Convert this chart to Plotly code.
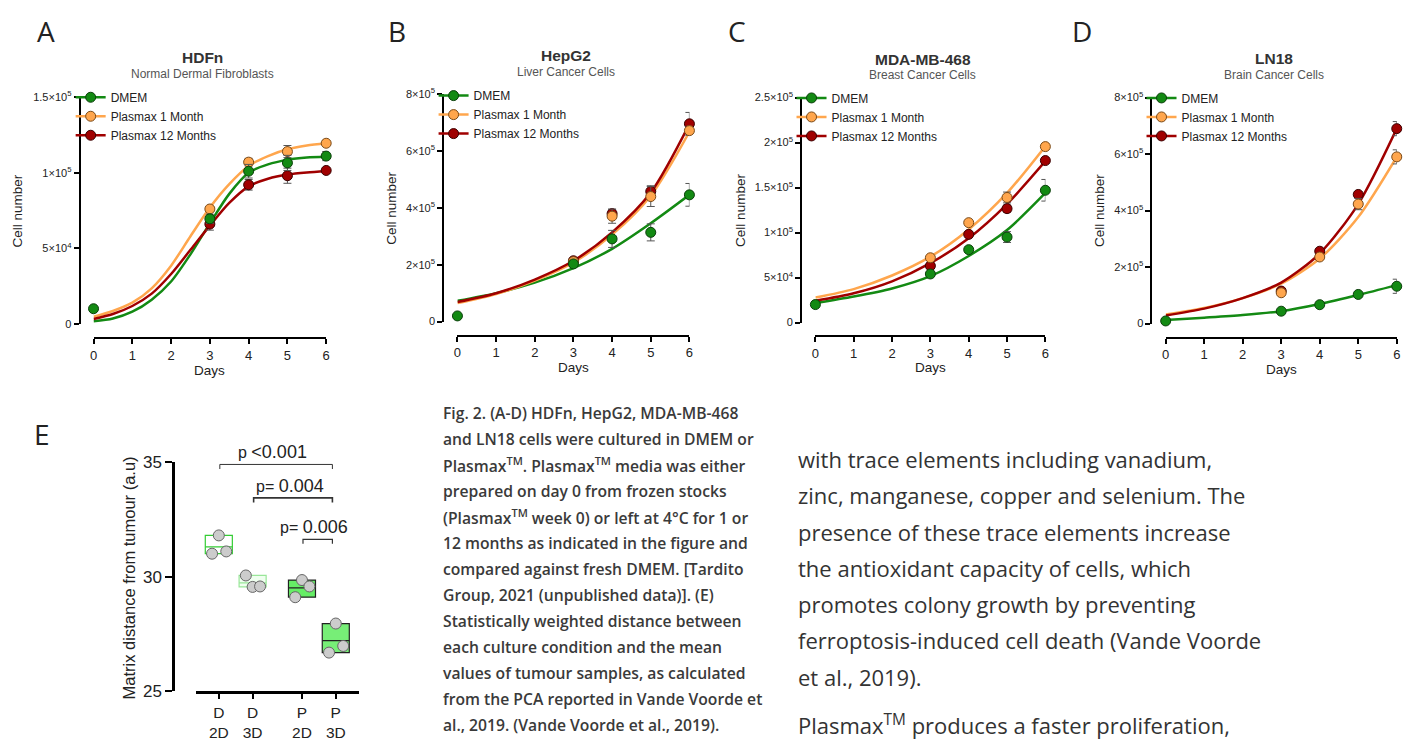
import plotly.graph_objects as go

# The page body keeps an 8px margin; the figure is sized so the page fits the window exactly.
WIN_W, WIN_H, OFF = 1418, 749, 8
W, H = WIN_W - 2 * OFF, WIN_H - 2 * OFF

# ---------------- data: growth curves (cell number vs days) ----------------
series_names = ["DMEM", "Plasmax 1 Month", "Plasmax 12 Months"]
days_dmem = [0, 3, 4, 5, 6]
days_plasmax = [3, 4, 5, 6]
fit_days_hdfn = [0, 0.5, 1, 1.5, 2, 2.5, 3, 3.5, 4, 4.5, 5, 5.5, 6]
fit_days = [0, 1, 2, 3, 4, 5, 6]
day_ticks = [0, 1, 2, 3, 4, 5, 6]

# A  HDFn
hdfn_dmem = [10000, 69500, 101000, 106500, 111000]
hdfn_dmem_sd = [0, 3000, 4500, 5000, 3000]
hdfn_p1 = [76000, 107000, 114000, 119500]
hdfn_p1_sd = [1500, 2500, 4000, 2000]
hdfn_p12 = [66000, 92000, 98000, 101500]
hdfn_p12_sd = [4000, 3500, 5000, 1500]
hdfn_fit_dmem = [1700, 3500, 8000, 16000, 28000, 46000, 66500, 86000, 100000, 105500, 108500, 110000, 110500]
hdfn_fit_p1 = [4700, 8500, 14000, 23500, 38500, 58000, 77000, 92500, 104500, 111000, 115500, 118000, 119500]
hdfn_fit_p12 = [3200, 6500, 11800, 20000, 33000, 49000, 65000, 80000, 91000, 96000, 98800, 100200, 101000]
hdfn_yticks = [0, 50000, 100000, 150000]
hdfn_ylabels = ["0", "5×10<sup>4</sup>", "1×10<sup>5</sup>", "1.5×10<sup>5</sup>"]

# B  HepG2
hepg2_dmem = [20000, 203000, 291000, 314000, 446000]
hepg2_dmem_sd = [0, 6000, 30000, 30000, 40000]
hepg2_p1 = [211000, 371000, 440000, 672000]
hepg2_p1_sd = [5000, 25000, 35000, 15000]
hepg2_p12 = [214000, 380000, 458000, 696000]
hepg2_p12_sd = [5000, 15000, 20000, 40000]
hepg2_fit_dmem = [73000, 100000, 137000, 188000, 256000, 346000, 446000]
hepg2_fit_p1 = [65000, 97000, 144000, 208000, 306000, 443000, 668000]
hepg2_fit_p12 = [69000, 100000, 148000, 214000, 314000, 454000, 695000]
hepg2_yticks = [0, 200000, 400000, 600000, 800000]
hepg2_ylabels = ["0", "2×10<sup>5</sup>", "4×10<sup>5</sup>", "6×10<sup>5</sup>", "8×10<sup>5</sup>"]

# C  MDA-MB-468
mda_dmem = [20000, 54000, 81000, 95000, 147000]
mda_dmem_sd = [0, 2000, 3000, 6000, 12000]
mda_p1 = [72000, 111000, 139000, 195500]
mda_p1_sd = [2000, 2000, 6000, 3000]
mda_p12 = [63000, 98000, 126600, 180000]
mda_p12_sd = [3000, 3000, 4000, 2000]
mda_fit_dmem = [21600, 28900, 37900, 51600, 74000, 102800, 144000]
mda_fit_p1 = [27800, 37200, 52300, 73200, 103500, 144000, 196000]
mda_fit_p12 = [24200, 32500, 45800, 66000, 93800, 131700, 179300]
mda_yticks = [0, 50000, 100000, 150000, 200000, 250000]
mda_ylabels = ["0", "5×10<sup>4</sup>", "1×10<sup>5</sup>", "1.5×10<sup>5</sup>", "2×10<sup>5</sup>", "2.5×10<sup>5</sup>"]

# D  LN18
ln18_dmem = [9200, 43700, 66700, 103000, 132000]
ln18_dmem_sd = [0, 4000, 5000, 6000, 25000]
ln18_p1 = [109000, 235600, 423000, 590000]
ln18_p1_sd = [6000, 8000, 20000, 25000]
ln18_p12 = [115000, 256000, 457000, 690000]
ln18_p12_sd = [5000, 6000, 10000, 25000]
ln18_fit_dmem = [12600, 20700, 29900, 43700, 69000, 101000, 136000]
ln18_fit_p1 = [32000, 55000, 90000, 141000, 230000, 377000, 590000]
ln18_fit_p12 = [28700, 52900, 90000, 145000, 248000, 423000, 690000]
ln18_yticks = [0, 200000, 400000, 600000, 800000]
ln18_ylabels = ["0", "2×10<sup>5</sup>", "4×10<sup>5</sup>", "6×10<sup>5</sup>", "8×10<sup>5</sup>"]

# ---------------- data: panel E ----------------
e_conditions = ["D<br>2D", "D<br>3D", "P<br>2D", "P<br>3D"]
e_medium = ["D", "D", "P", "P"]
e_replicates = [[31.0, 31.8, 31.1], [30.05, 29.55, 29.57], [29.1, 29.85, 29.57], [26.68, 27.95, 26.97]]
e_yticks = [25, 30, 35]
e_pvalues = ["p <0.001", "p= 0.004", "p= 0.006"]
e_pairs = [(0, 3), (1, 3), (2, 3)]

# ---------------- text ----------------
caption_lines = [
    "Fig. 2. (A-D) HDFn, HepG2, MDA-MB-468",
    "and LN18 cells were cultured in DMEM or",
    "Plasmax<sup>TM</sup>. Plasmax<sup>TM</sup> media was either",
    "prepared on day 0 from frozen stocks",
    "(Plasmax<sup>TM</sup> week 0) or left at 4°C for 1 or",
    "12 months as indicated in the figure and",
    "compared against fresh DMEM. [Tardito",
    "Group, 2021 (unpublished data)]. (E)",
    "Statistically weighted distance between",
    "each culture condition and the mean",
    "values of tumour samples, as calculated",
    "from the PCA reported in Vande Voorde et",
    "al., 2019. (Vande Voorde et al., 2019).",
]
body_lines = [
    "with trace elements including vanadium,",
    "zinc, manganese, copper and selenium. The",
    "presence of these trace elements increase",
    "the antioxidant capacity of cells, which",
    "promotes colony growth by preventing",
    "ferroptosis-induced cell death (Vande Voorde",
    "et al., 2019).",
]
body_next = "Plasmax<sup>TM</sup> produces a faster proliferation,"

# ---------------- styles / geometry ----------------
FONT = "Arial, Liberation Sans, sans-serif"
OPEN = "Open Sans, Noto Sans, sans-serif"
COLORS = ["#138a13", "#ffa64d", "#a00000"]
EDGES = ["#0b3f0b", "#7a4a18", "#3a0000"]

datasets = [
    dict(letter="A", title="HDFn", sub="Normal Dermal Fibroblasts", fit_x=fit_days_hdfn,
         pts=[hdfn_dmem, hdfn_p1, hdfn_p12], sd=[hdfn_dmem_sd, hdfn_p1_sd, hdfn_p12_sd],
         fits=[hdfn_fit_dmem, hdfn_fit_p1, hdfn_fit_p12], yt=hdfn_yticks, yl=hdfn_ylabels),
    dict(letter="B", title="HepG2", sub="Liver Cancer Cells", fit_x=fit_days,
         pts=[hepg2_dmem, hepg2_p1, hepg2_p12], sd=[hepg2_dmem_sd, hepg2_p1_sd, hepg2_p12_sd],
         fits=[hepg2_fit_dmem, hepg2_fit_p1, hepg2_fit_p12], yt=hepg2_yticks, yl=hepg2_ylabels),
    dict(letter="C", title="MDA-MB-468", sub="Breast Cancer Cells", fit_x=fit_days,
         pts=[mda_dmem, mda_p1, mda_p12], sd=[mda_dmem_sd, mda_p1_sd, mda_p12_sd],
         fits=[mda_fit_dmem, mda_fit_p1, mda_fit_p12], yt=mda_yticks, yl=mda_ylabels),
    dict(letter="D", title="LN18", sub="Brain Cancer Cells", fit_x=fit_days,
         pts=[ln18_dmem, ln18_p1, ln18_p12], sd=[ln18_dmem_sd, ln18_p1_sd, ln18_p12_sd],
         fits=[ln18_fit_dmem, ln18_fit_p1, ln18_fit_p12], yt=ln18_yticks, yl=ln18_ylabels),
]
# pixel geometry of each growth panel (window pixels)
geoms = [
    dict(yax=76, d0=90, d6=324, xax=338, zero=323, top=90.3, tx=200, ty=50, sy=67, lx=42, ly=22,
         clx=14, dy=371, legx=107, legy=90),
    dict(yax=441.7, d0=456, d6=689.3, xax=335, zero=320.7, top=87.3, tx=565, ty=48, sy=64, lx=395, ly=22,
         clx=390, dy=368, legx=472, legy=88.3),
    dict(yax=801.7, d0=816, d6=1047.3, xax=336, zero=321.7, top=90.7, tx=924, ty=51.7, sy=67.7, lx=737, ly=22,
         clx=740, dy=368, legx=832, legy=90.7),
    dict(yax=1154, d0=1168.3, d6=1400.7, xax=337.3, zero=322.7, top=90.7, tx=1277, ty=50.7, sy=67.3, lx=1084, ly=22,
         clx=1101.7, dy=370, legx=1184, legy=90.7),
]


def px(x):
    return (x - OFF) / W


def py(y):
    return 1 - (y - OFF) / H


fig = go.Figure()
layout = dict(width=W, height=H, margin=dict(l=0, r=0, t=0, b=0), paper_bgcolor="white",
              plot_bgcolor="white", font=dict(family=FONT, color="#222"), showlegend=True)
annotations = []
suffix = ["", "2", "3", "4"]

for i, (ds, g) in enumerate(zip(datasets, geoms)):
    s = suffix[i]
    xa, ya, leg = "x" + s, "y" + s, "legend" + s
    # fitted curves
    for k in range(3):
        fig.add_trace(go.Scatter(x=ds["fit_x"], y=ds["fits"][k], mode="lines",
                                 line=dict(color=COLORS[k], width=2.5, shape="spline", smoothing=0.8),
                                 xaxis=xa, yaxis=ya, showlegend=False, hoverinfo="skip"))
    # data points with SD
    for k in [2, 1, 0]:
        xs = days_dmem if k == 0 else days_plasmax
        fig.add_trace(go.Scatter(x=xs, y=ds["pts"][k], mode="markers", cliponaxis=False,
                                 marker=dict(size=10, color=COLORS[k], line=dict(color=EDGES[k], width=1)),
                                 error_y=dict(type="data", array=ds["sd"][k], color="#555", thickness=1, width=4),
                                 xaxis=xa, yaxis=ya, showlegend=False))
    # legend entries
    for k in range(3):
        fig.add_trace(go.Scatter(x=[None], y=[None], mode="lines+markers", name=series_names[k],
                                 line=dict(color=COLORS[k], width=2.5),
                                 marker=dict(size=10, color=COLORS[k], line=dict(color=EDGES[k], width=1)),
                                 xaxis=xa, yaxis=ya, legend=leg))
    layout[leg] = dict(
        x=px(g["legx"] - 40), y=py(g["legy"] - 14.5), xanchor="left", yanchor="top",
        bgcolor="rgba(0,0,0,0)", font=dict(size=12, family=FONT, color="#222"),
        itemclick=False, itemdoubleclick=False)
    layout["xaxis" + s] = dict(domain=[px(g["d0"]), px(g["d6"])], range=[0, 6], anchor="free",
                               position=py(g["xax"]), tickvals=day_ticks, ticks="outside", ticklen=5,
                               tickwidth=2, tickcolor="black", showline=True, linecolor="black",
                               linewidth=2, showgrid=False, zeroline=False,
                               tickfont=dict(size=13, color="#222"), fixedrange=True)
    layout["yaxis" + s] = dict(domain=[py(g["zero"]), py(g["top"])], range=[0, ds["yt"][-1]], anchor="free",
                               position=px(g["yax"]), tickvals=ds["yt"], ticktext=ds["yl"], ticks="outside",
                               ticklen=5, tickwidth=2, tickcolor="black", showline=True, linecolor="black",
                               linewidth=2, showgrid=False, zeroline=False,
                               tickfont=dict(size=11, color="#222"), fixedrange=True)
    annotations += [
        dict(x=px(g["lx"]), y=py(g["ly"]), text=ds["letter"], font=dict(size=28, family=OPEN, color="#222")),
        dict(x=px(g["tx"]), y=py(g["ty"]), text="<b>" + ds["title"] + "</b>", font=dict(size=15.5, color="#333")),
        dict(x=px(g["tx"]), y=py(g["sy"]), text=ds["sub"], font=dict(size=12, color="#555")),
        dict(x=px(g["clx"]), y=py((g["zero"] + g["top"]) / 2), text="Cell number", textangle=-90,
             font=dict(size=13.5, color="#222")),
        dict(x=px((g["d0"] + g["d6"]) / 2), y=py(g["dy"]), text="Days", font=dict(size=13.5, color="#222")),
    ]

# ---------------- panel E ----------------
group_gap = 0.46
e_pos = []
for j, m in enumerate(e_medium):
    e_pos.append(1 + j + (group_gap if m != e_medium[0] else 0))
e_min = [min(r) for r in e_replicates]
e_max = [max(r) for r in e_replicates]
e_mean = [sum(r) / len(r) for r in e_replicates]
box_fill = ["white", "#efffef", "#66ee66", "#77ee77"]
box_edge = ["#33cc33", "#99e699", "#222222", "#222222"]
half = 0.4
fig.add_trace(go.Bar(x=e_pos, y=[a - b for a, b in zip(e_max, e_min)], base=e_min, width=2 * half,
                     marker=dict(color=box_fill, line=dict(color=box_edge, width=1.2)),
                     xaxis="x5", yaxis="y5", showlegend=False, hoverinfo="skip"))
for j in range(4):
    fig.add_trace(go.Scatter(x=[e_pos[j] - half, e_pos[j] + half], y=[e_mean[j], e_mean[j]], mode="lines",
                             line=dict(color=box_edge[j], width=1.2), xaxis="x5", yaxis="y5",
                             showlegend=False, hoverinfo="skip"))
offsets = [-0.2, 0.0, 0.22]
ex, ey = [], []
for j, reps in enumerate(e_replicates):
    for o, v in zip(offsets, reps):
        ex.append(e_pos[j] + o)
        ey.append(v)
fig.add_trace(go.Scatter(x=ex, y=ey, mode="markers", cliponaxis=False,
                         marker=dict(size=11, color="#cccccc", line=dict(color="#666", width=1)),
                         xaxis="x5", yaxis="y5", showlegend=False))

# E geometry (window px)
e_yax, e_xl, e_xr, e_xax, e_y25, e_y35 = 170, 193, 357, 700.7, 700, 465
ppu = 34.0
x_lo = e_pos[0] - (216 - e_xl) / ppu
x_hi = e_pos[0] + (e_xr - 216) / ppu
layout["xaxis5"] = dict(domain=[px(e_xl), px(e_xr)], range=[x_lo, x_hi], anchor="free", position=py(e_xax),
                        tickvals=e_pos, ticktext=e_conditions, ticks="outside", ticklen=6, tickwidth=2,
                        tickcolor="black", showline=True, linecolor="black", linewidth=2.5, showgrid=False,
                        zeroline=False, tickfont=dict(size=15.5, color="#222"), fixedrange=True)
layout["yaxis5"] = dict(domain=[py(e_y25), py(e_y35)], range=[25, 35], anchor="free", position=px(e_yax),
                        tickvals=e_yticks, ticks="outside", ticklen=7, tickwidth=2, tickcolor="black",
                        showline=True, linecolor="black", linewidth=2.5, showgrid=False, zeroline=False,
                        tickfont=dict(size=17, color="#222"), fixedrange=True)
bracket_levels = [34.9, 33.44, 31.63]
bracket_widths = [1.0, 1.6, 1.2]
shapes = []
for (a, b), lvl, txt, lw in zip(e_pairs, bracket_levels, e_pvalues, bracket_widths):
    x0, x1 = e_pos[a] + 0.03, e_pos[b] - 0.1
    shapes.append(dict(type="path", xref="x5", yref="y5",
                       path=f"M{x0},{lvl - 0.2} L{x0},{lvl} L{x1},{lvl} L{x1},{lvl - 0.2}",
                       line=dict(color="#333", width=lw)))
    cut = next(n for n, ch in enumerate(txt) if ch in "<0123456789")
    label = f"<span style='font-size:16px'>{txt[:cut]}</span>{txt[cut:]}"
    annotations.append(dict(x=(x0 + x1) / 2 - 0.1, y=lvl, xref="x5", yref="y5", text=label, yanchor="bottom",
                            yshift=0, font=dict(size=18, color="#222")))
annotations += [
    dict(x=px(38), y=py(436), text="E", font=dict(size=28, family=OPEN, color="#222")),
    dict(x=px(126), y=py(584), text="Matrix distance from tumour (a.u)", textangle=-90,
         font=dict(size=16.5, color="#222")),
]

# ---------------- caption & body text ----------------
for n, line in enumerate(caption_lines):
    annotations.append(dict(x=px(439), y=py(415 + n * 26.67), text=line, xanchor="left",
                            font=dict(size=15.7, family=OPEN, color="#3a3a3a", weight=600)))
for n, line in enumerate(body_lines):
    annotations.append(dict(x=px(797), y=py(461.7 + n * 37.25), text=line, xanchor="left",
                            font=dict(size=22, family=OPEN, color="#333")))
annotations.append(dict(x=px(797), y=py(734), text=body_next, xanchor="left",
                        font=dict(size=22, family=OPEN, color="#333")))

for a in annotations:
    a.setdefault("xref", "paper")
    a.setdefault("yref", "paper")
    a.setdefault("showarrow", False)
    a.setdefault("xanchor", "center")
    a.setdefault("yanchor", "middle")
layout["annotations"] = annotations
layout["shapes"] = shapes
fig.update_layout(**layout)
fig.write_html("out.html")
